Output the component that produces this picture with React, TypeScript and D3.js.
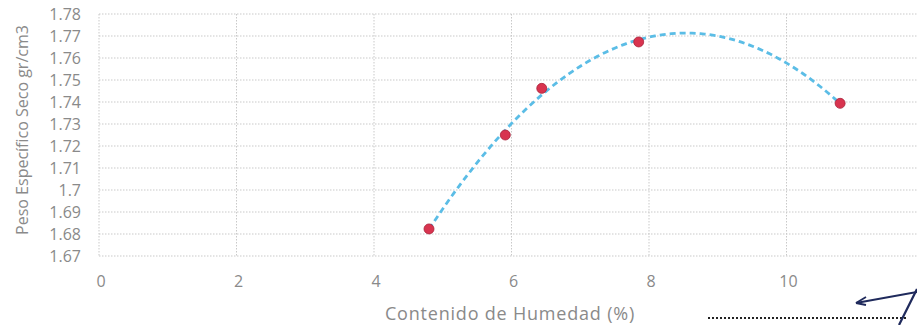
import React from "react";
import * as d3 from "d3";

const moisture = [4.8, 5.91, 6.44, 7.85, 10.78];
const density = [1.6823, 1.725, 1.7462, 1.7673, 1.7394];
const xTicks = [0, 2, 4, 6, 8, 10, 12];
const yTicks = [1.67, 1.68, 1.69, 1.7, 1.71, 1.72, 1.73, 1.74, 1.75, 1.76, 1.77, 1.78];
const xTitle = "Contenido de Humedad (%)";
const yTitle = "Peso Específico Seco gr/cm3";

function polyFit(xs: number[], ys: number[], deg: number): number[] {
  const n = deg + 1;
  const A: number[][] = [];
  for (let i = 0; i < n; i++) {
    A.push([]);
    for (let j = 0; j < n; j++) A[i].push(d3.sum(xs, (x) => Math.pow(x, i + j)));
    A[i].push(d3.sum(xs, (x, k) => Math.pow(x, i) * ys[k]));
  }
  for (let c = 0; c < n; c++) {
    let p = c;
    for (let r = c + 1; r < n; r++) if (Math.abs(A[r][c]) > Math.abs(A[p][c])) p = r;
    [A[c], A[p]] = [A[p], A[c]];
    for (let r = 0; r < n; r++) {
      if (r === c) continue;
      const f = A[r][c] / A[c][c];
      for (let k = c; k <= n; k++) A[r][k] -= f * A[c][k];
    }
  }
  return A.map((row, i) => row[n] / row[i]);
}

export default function App() {
  const W = 917, H = 325;
  const x = d3.scaleLinear().domain([0, 12]).range([99, 924]);
  const y = d3.scaleLinear().domain([1.67, 1.78]).range([256, 14]);
  const coef = polyFit(moisture, density, 2);
  const f = (v: number) => coef.reduce((s, c, i) => s + c * Math.pow(v, i), 0);
  const x0 = d3.min(moisture)!, x1 = d3.max(moisture)!;
  const trend = d3.range(0, 101).map((i) => x0 + ((x1 - x0) * i) / 100);
  const line = d3.line<number>().x((v) => x(v)).y((v) => y(f(v))).curve(d3.curveLinear);
  const grid = "#c9c9c9";
  const txt = "#8a8a8a";
  return (
    <svg width={W} height={H} style={{ position: "absolute", left: 0, top: 0, background: "#fff" }}
      fontFamily="'Open Sans', 'Noto Sans', sans-serif">
      {yTicks.map((t) => (
        <line key={"h" + t} x1={x(0)} x2={x(12)} y1={y(t)} y2={y(t)} stroke={grid} strokeWidth={1} strokeDasharray="1.5,1.5" />
      ))}
      {xTicks.map((t) => (
        <line key={"v" + t} x1={x(t)} x2={x(t)} y1={y(1.78)} y2={y(1.67)} stroke={grid} strokeWidth={1} strokeDasharray="1.5,1.5" />
      ))}
      {yTicks.map((t) => (
        <text key={"yl" + t} x={81} y={y(t)} dy="0.35em" textAnchor="end" fontSize={16} fill={txt}>
          {String(+t.toFixed(2))}
        </text>
      ))}
      {xTicks.map((t) => (
        <text key={"xl" + t} x={x(t) + 2} y={287} textAnchor="middle" fontSize={16} fill={txt}>
          {t}
        </text>
      ))}
      <text x={510} y={320} textAnchor="middle" fontSize={18} letterSpacing={0.8} fill={txt}>{xTitle}</text>
      <text transform={`translate(28,${130}) rotate(-90)`} textAnchor="middle" fontSize={16} fill={txt}>{yTitle}</text>
      <path d={line(trend) || ""} fill="none" stroke="#5bbde6" strokeWidth={2.8} strokeDasharray="6,4" />
      {moisture.map((m, i) => (
        <circle key={"p" + i} cx={x(m)} cy={y(density[i])} r={5} fill="#d8344f" stroke="#a8223a" strokeWidth={0.8} />
      ))}
      <line x1={708} x2={906} y1={318} y2={318} stroke="#222" strokeWidth={1.8} strokeDasharray="2,2" />
      <line x1={917} x2={856} y1={292} y2={303} stroke="#1f2a5c" strokeWidth={2.2} />
      <path d="M856,303 L866,297 M856,303 L866,305" stroke="#1f2a5c" strokeWidth={1.8} fill="none" />
      <line x1={917} x2={899} y1={289} y2={325} stroke="#1f2a5c" strokeWidth={2.2} />
    </svg>
  );
}
